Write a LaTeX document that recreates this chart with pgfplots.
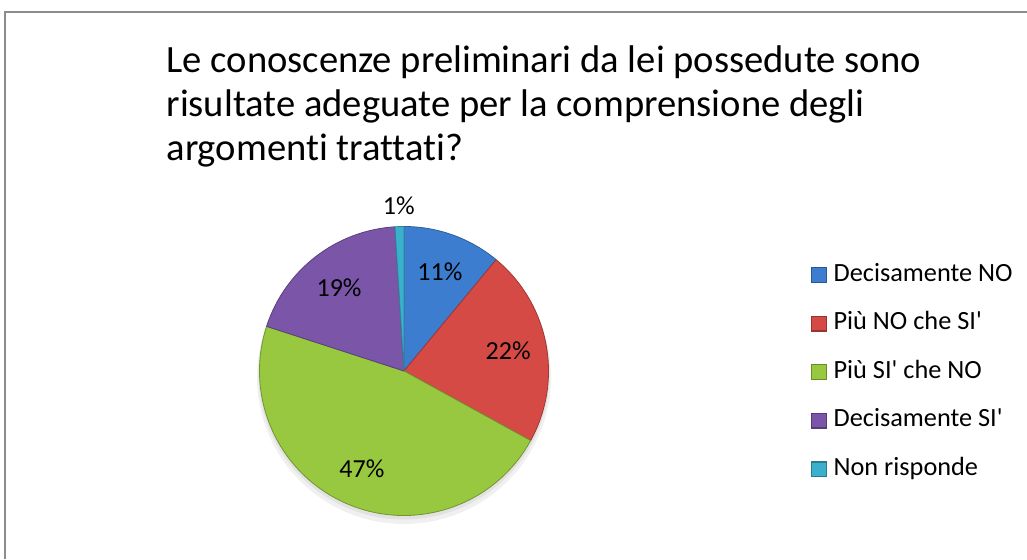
\documentclass[border=0pt]{standalone}
\usepackage{pgfplots}
\usepackage{pgfplotstable}
\pgfplotsset{compat=1.18}
\usepackage{fontspec}
\newfontfamily\calibri{Carlito}[Ligatures=NoCommon]
\definecolor{c0}{HTML}{3D7DD0}
\definecolor{c1}{HTML}{D64A45}
\definecolor{c2}{HTML}{97C840}
\definecolor{c3}{HTML}{7A55A8}
\definecolor{c4}{HTML}{3AB0CC}
\pgfplotstableread{
v
11
22
47
19
1
}\piedata
\begin{document}
\begin{tikzpicture}
\gdef\cum{90}%
\foreach \i in {0,...,4}{%
  \pgfplotstablegetelem{\i}{v}\of\piedata
  \pgfmathsetmacro\s{\cum}%
  \pgfmathsetmacro\e{\cum-3.6*\pgfplotsretval}%
  \pgfmathsetmacro\m{(\s+\e)/2}%
  \expandafter\xdef\csname ps\i\endcsname{\s}%
  \expandafter\xdef\csname pe\i\endcsname{\e}%
  \expandafter\xdef\csname pm\i\endcsname{\m}%
  \expandafter\xdef\csname pv\i\endcsname{\pgfplotsretval}%
  \xdef\cum{\e}%
}%
\begin{axis}[x=1pt, y=1pt, xmin=0, xmax=1027, ymin=0, ymax=559,
  scale only axis, hide axis, clip=false, anchor=south west, at={(0,0)},
  legend style={at={(axis cs:811,559-262)}, anchor=north west, draw=none, fill=none,
    font=\calibri\fontsize{26.3}{26}\selectfont, inner sep=0pt, row sep=23.6pt,
    nodes={inner sep=0pt, text height=19pt, text depth=6pt, anchor=west},
    /tikz/every odd column/.style={column sep=7pt}},
  legend cell align=left,
  legend image code/.code={\fill[#1] (0pt,-7.5pt) rectangle (15pt,7.5pt);
     \draw[#1, fill=none, line width=0.6pt] (0.3pt,-7.2pt) rectangle (14.7pt,7.2pt);},
]
% frame
\draw[black!45, line width=1.5pt] (axis cs:5,0) -- (axis cs:5,547) -- (axis cs:1027,547);
% title
\node[anchor=base west, font=\calibri\fontsize{38.6}{44}\selectfont] at (axis cs:163,559-73) {Le conoscenze preliminari da lei possedute sono};
\node[anchor=base west, font=\calibri\fontsize{38.6}{44}\selectfont] at (axis cs:163,559-117) {risultate adeguate per la comprensione degli};
\node[anchor=base west, font=\calibri\fontsize{38.6}{44}\selectfont] at (axis cs:163,559-161) {argomenti trattati?};
% shadow
\fill[black, opacity=0.06] (axis cs:404,182) circle[radius=147pt];
\fill[black, opacity=0.06] (axis cs:404,185) circle[radius=145.5pt];
% slices
\pgfplotsinvokeforeach{0,...,4}{
  \fill[fill=c#1, draw=c#1!75!black, line width=0.8pt, line join=round]
    (axis cs:404,188) -- ([shift={(\csname ps#1\endcsname:144.5pt)}]axis cs:404,188)
    arc[start angle=\csname ps#1\endcsname, end angle=\csname pe#1\endcsname, radius=144.5pt] -- cycle;
}
\pgfplotsinvokeforeach{0,...,3}{
  \node[font=\calibri\fontsize{26}{26}\selectfont] at ([shift={(\csname pm#1\endcsname:106pt)}]axis cs:404,188) {\csname pv#1\endcsname\%};
}
\node[font=\calibri\fontsize{26}{26}\selectfont] at ([shift={(\csname pm4\endcsname:165pt)}]axis cs:404,188) {\csname pv4\endcsname\%};
% legend
\addlegendimage{fill=c0, draw=c0!70!black}
\addlegendentry{Decisamente NO}
\addlegendimage{fill=c1, draw=c1!70!black}
\addlegendentry{Più NO che SI'}
\addlegendimage{fill=c2, draw=c2!70!black}
\addlegendentry{Più SI' che NO}
\addlegendimage{fill=c3, draw=c3!70!black}
\addlegendentry{Decisamente SI'}
\addlegendimage{fill=c4, draw=c4!70!black}
\addlegendentry{Non risponde}
\end{axis}
\pgfresetboundingbox
\path[use as bounding box] (0,0) rectangle (1027pt,559pt);
\end{tikzpicture}
\end{document}
